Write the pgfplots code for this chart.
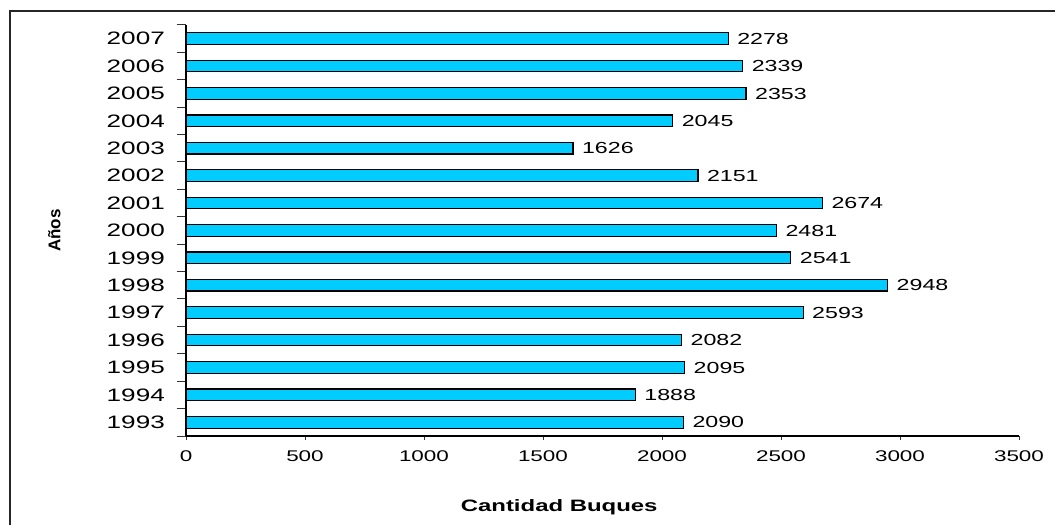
\documentclass[border=0pt]{standalone}
\usepackage{pgfplots}
\pgfplotsset{compat=1.18}
\usepackage{fontspec}
\setmainfont{Liberation Sans}
\newfontfamily\widefont[FakeStretch=1.45]{Liberation Sans}
\definecolor{barcyan}{RGB}{0,204,255}
\begin{document}
\begin{tikzpicture}[x=1pt,y=1pt]
\useasboundingbox (0,0) rectangle (1055,525);
% outer chart frame (top and left edges)
\draw[line width=2pt,black!85] (10,0) -- (10,514) -- (1055,514);
\begin{axis}[
  at={(186pt,89pt)}, anchor=south west,
  scale only axis, width=833pt, height=411pt,
  xbar, bar width=11.6pt,
  xmin=0, xmax=3500,
  ymin=-0.5, ymax=14.5,
  axis x line*=bottom, axis y line*=left,
  axis line style={line width=1.2pt},
  tick align=outside,
  major tick length=4pt, minor tick length=9pt,
  xtick={0,500,...,3500},
  ytick={0,...,14},
  yticklabels={1993,1994,1995,1996,1997,1998,1999,2000,2001,2002,2003,2004,2005,2006,2007},
  minor ytick={-0.5,0.5,...,14.5},
  every major y tick/.style={draw=none},
  tick style={line width=1pt,black!80},
  /pgf/number format/1000 sep={},
  /pgf/number format/assume math mode=true,
  xticklabel style={font=\widefont\fontsize{15.5}{17}\selectfont, anchor=north, inner sep=0pt, yshift=-10pt},
  yticklabel style={font=\widefont\fontsize{18}{20}\selectfont, anchor=east, inner sep=0pt, xshift=-17pt},
  xlabel={Cantidad Buques},
  xlabel style={font=\widefont\bfseries\fontsize{16.5}{18}\selectfont, at={(axis description cs:0.448,-0.174)}, anchor=center},
  ylabel={Años},
  ylabel style={font=\bfseries\fontsize{17}{19}\selectfont, at={(axis description cs:-0.158,0.5)}, anchor=center},
  nodes near coords={\pgfmathprintnumber{\pgfplotspointmeta}},
  nodes near coords style={font=\widefont\fontsize{16}{18}\selectfont, anchor=west, inner sep=0pt, xshift=8.5pt},
  clip=false,
]
\addplot[fill=barcyan, draw=black, line width=1.2pt] coordinates {
  (2090,0) (1888,1) (2095,2) (2082,3) (2593,4) (2948,5) (2541,6) (2481,7)
  (2674,8) (2151,9) (1626,10) (2045,11) (2353,12) (2339,13) (2278,14)
};
\end{axis}
\end{tikzpicture}
\end{document}
